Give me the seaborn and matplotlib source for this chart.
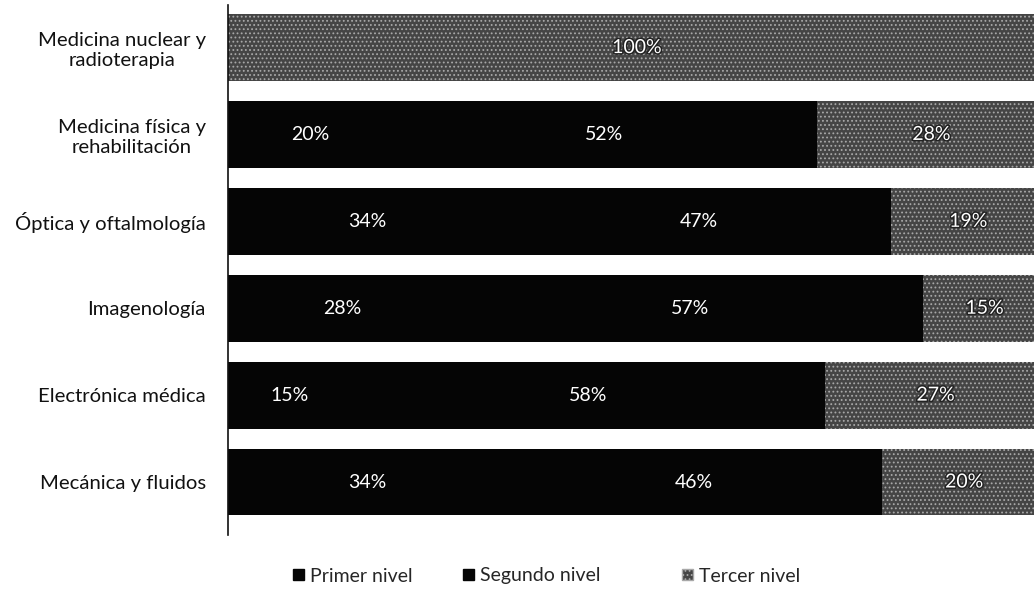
import matplotlib
matplotlib.use("Agg")
import matplotlib.pyplot as plt
from matplotlib.patches import Patch
import matplotlib.patheffects as pe
import seaborn as sns
import pandas as pd

categorias = [
    "Medicina nuclear y\nradioterapia",
    "Medicina física y\nrehabilitación",
    "Óptica y oftalmología",
    "Imagenología",
    "Electrónica médica",
    "Mecánica y fluidos",
]
primer_nivel = [0, 20, 34, 28, 15, 34]
segundo_nivel = [0, 52, 47, 57, 58, 46]
tercer_nivel = [100, 28, 19, 15, 27, 20]
series = ["Primer nivel", "Segundo nivel", "Tercer nivel"]

sns.set_theme(style="white")
plt.rcParams["font.family"] = ["Lato", "DejaVu Sans"]
plt.rcParams["hatch.linewidth"] = 0.8

df = pd.DataFrame({
    "categoria": categorias,
    "p": primer_nivel,
    "s": segundo_nivel,
    "t": tercer_nivel,
})
df["ps"] = df["p"] + df["s"]
df["pst"] = df["ps"] + df["t"]

negro = "#050505"
gris = "#454545"
moteado = "#a8a8a8"

fig = plt.figure(figsize=(10.34, 6.03), dpi=100)
ax = fig.add_axes([228 / 1034, 68 / 603, 818 / 1034, 530 / 603])

bw = 0.77
# stacked bars drawn as overlapping cumulative totals
sns.barplot(data=df, y="categoria", x="pst", color=gris, width=bw,
            saturation=1, ax=ax, orient="h", hatch="....", edgecolor=moteado,
            linewidth=0)
sns.barplot(data=df, y="categoria", x="ps", color=negro, width=bw,
            saturation=1, ax=ax, orient="h", linewidth=0)
sns.barplot(data=df, y="categoria", x="p", color=negro, width=bw,
            saturation=1, ax=ax, orient="h", linewidth=0)

for i, row in df.iterrows():
    segs = [(0, row["p"]), (row["p"], row["s"]), (row["ps"], row["t"])]
    for k, (start, val) in enumerate(segs):
        if val <= 0:
            continue
        t = ax.text(start + val / 2, i, f"{val}%", ha="center", va="center",
                    color="white", fontsize=14, zorder=6)
        if k == 2:
            t.set_path_effects([pe.withStroke(linewidth=2.2, foreground="#222222")])

ax.set_xlim(0, 100)
ax.set_ylim(5.61, -0.49)
ax.set_xlabel("")
ax.set_ylabel("")
ax.set_xticks([])
ax.tick_params(axis="y", length=0, pad=16, labelsize=14.6)
for lbl in ax.get_yticklabels():
    lbl.set_multialignment("center")
    lbl.set_color("#111111")
for side in ["top", "right", "bottom"]:
    ax.spines[side].set_visible(False)
ax.spines["left"].set_color("#111111")
ax.spines["left"].set_linewidth(1.2)

handles = [
    Patch(facecolor=negro, edgecolor=negro),
    Patch(facecolor=negro, edgecolor=negro),
    Patch(facecolor=gris, edgecolor=moteado, hatch="...."),
]
x_leyenda = [293, 463, 682]
for h, nombre, x0 in zip(handles, series, x_leyenda):
    fig.legend([h], [nombre], loc="center left",
               bbox_to_anchor=(x0 / 1034, 27 / 603), frameon=False,
               fontsize=14, handlelength=0.55, handleheight=0.55,
               handletextpad=0.3, borderpad=0, borderaxespad=0)

fig.savefig("out.png", dpi=100)
